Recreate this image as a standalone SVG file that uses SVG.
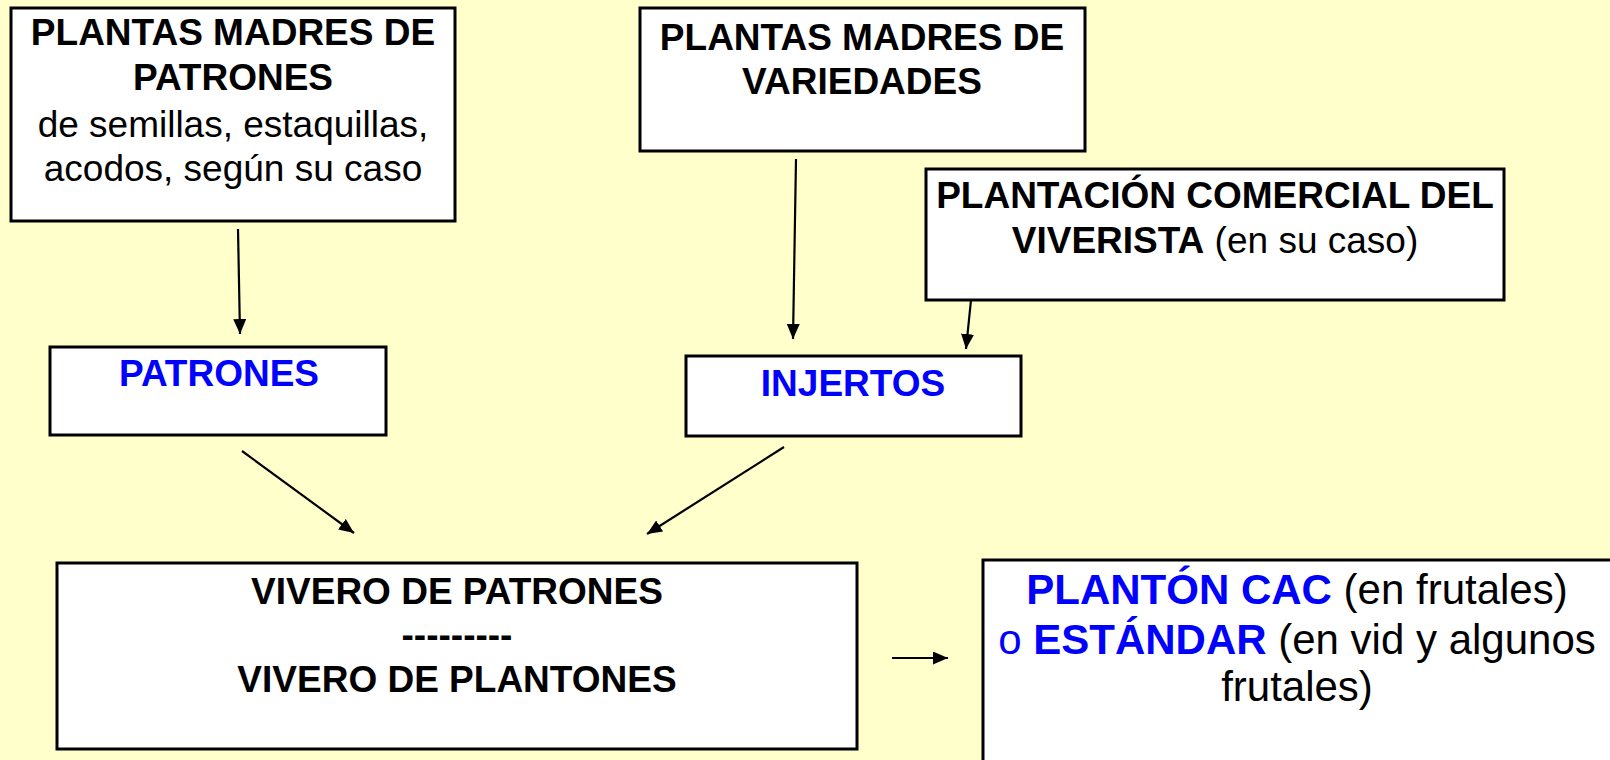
<svg xmlns="http://www.w3.org/2000/svg" width="1610" height="760" viewBox="0 0 1610 760">
<defs>
<marker id="arr" markerWidth="15" markerHeight="13" refX="15" refY="6.5" orient="auto" markerUnits="userSpaceOnUse" viewBox="0 0 15 13">
<path d="M0,0 L15,6.5 L0,13 Z" fill="#000"/>
</marker>
<style>
.box{fill:#fff;stroke:#000;stroke-width:3}
.t{font-family:"Liberation Sans",Arial,sans-serif;font-size:37px;fill:#000;text-anchor:middle}
.b{font-weight:bold}
.blue{fill:#0000ff}
.big{font-size:42px}
.con line{stroke:#000;stroke-width:2.2;marker-end:url(#arr)}
</style>
</defs>
<rect width="1610" height="760" fill="#ffffcc"/>
<g id="madres-patrones">
<rect class="box" x="11" y="8" width="444" height="213"/>
<text class="t b" x="233" y="45">PLANTAS MADRES DE</text>
<text class="t b" x="233" y="90">PATRONES</text>
<text class="t" x="233" y="137">de semillas, estaquillas,</text>
<text class="t" x="233" y="181">acodos, según su caso</text>
</g>
<g id="madres-variedades">
<rect class="box" x="640" y="8" width="445" height="143"/>
<text class="t b" x="862" y="50">PLANTAS MADRES DE</text>
<text class="t b" x="862" y="94">VARIEDADES</text>
</g>
<g id="plantacion">
<rect class="box" x="926" y="169" width="578" height="131"/>
<text class="t" x="1215" y="208"><tspan class="b">PLANTACIÓN COMERCIAL DEL</tspan></text>
<text class="t" x="1215" y="253"><tspan class="b">VIVERISTA</tspan> (en su caso)</text>
</g>
<g id="patrones">
<rect class="box" x="50" y="347" width="336" height="88"/>
<text class="t b blue" x="219" y="386">PATRONES</text>
</g>
<g id="injertos">
<rect class="box" x="686" y="356" width="335" height="80"/>
<text class="t b blue" x="853" y="396">INJERTOS</text>
</g>
<g id="vivero">
<rect class="box" x="57" y="563" width="800" height="186"/>
<text class="t b" x="457" y="604">VIVERO DE PATRONES</text>
<text class="t b" x="457" y="647">---------</text>
<text class="t b" x="457" y="692">VIVERO DE PLANTONES</text>
</g>
<g id="planton">
<rect class="box" x="983" y="560" width="640" height="220"/>
<text class="t big" x="1297" y="604"><tspan class="b blue">PLANTÓN CAC</tspan> (en frutales)</text>
<text class="t big" x="1297" y="654"><tspan class="blue">o </tspan><tspan class="b blue">ESTÁNDAR</tspan> (en vid y algunos</text>
<text class="t big" x="1297" y="701">frutales)</text>
</g>
<g id="connectors" class="con">
<line x1="238" y1="229" x2="240" y2="334"/>
<line x1="796" y1="159" x2="793" y2="339"/>
<line x1="971" y1="300" x2="966" y2="349"/>
<line x1="242" y1="451" x2="354" y2="533"/>
<line x1="784" y1="447" x2="647" y2="534"/>
<line x1="892" y1="658" x2="948" y2="658"/>
</g>
</svg>
